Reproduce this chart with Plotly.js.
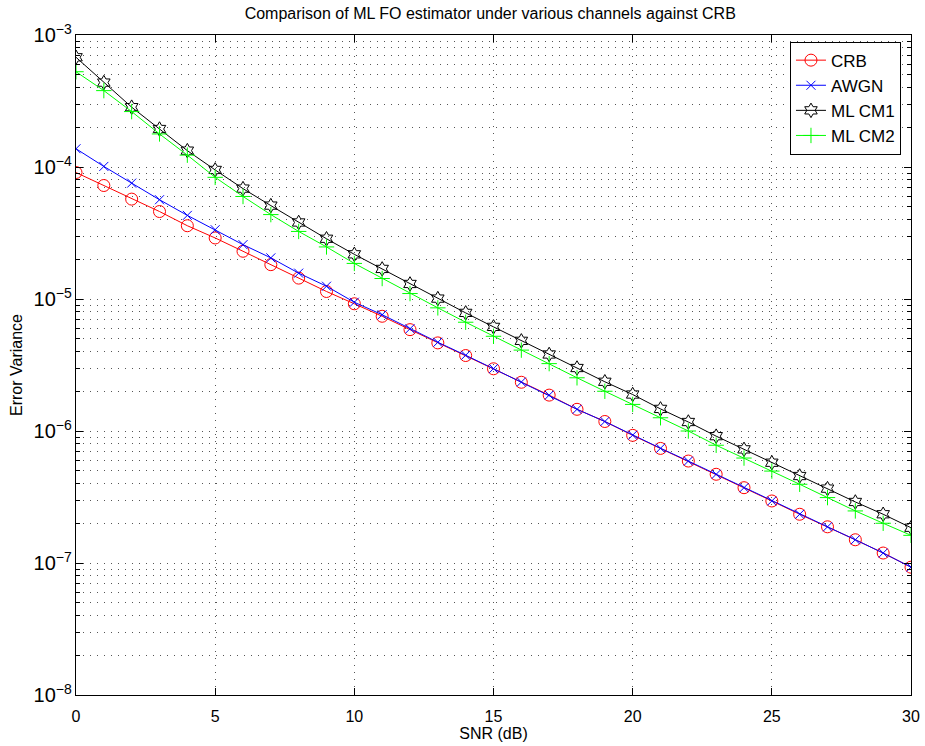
<!DOCTYPE html>
<html>
<head>
<meta charset="utf-8">
<script src="https://cdn.plot.ly/plotly-3.0.1.min.js"></script>
<style>html,body{margin:0;padding:0;background:#fff;}#chart{width:925px;height:746px;}</style>
</head>
<body>
<div id="chart"></div>
<script>
const snr = [0,1,2,3,4,5,6,7,8,9,10,11,12,13,14,15,16,17,18,19,20,21,22,23,24,25,26,27,28,29,30];
const crb = [9.08e-5,7.24e-5,5.71e-5,4.6e-5,3.59e-5,2.9e-5,2.3e-5,1.82e-5,1.44e-5,1.14e-5,9.2e-6,7.4e-6,5.86e-6,4.65e-6,3.73e-6,2.96e-6,2.34e-6,1.87e-6,1.46e-6,1.18e-6,9.27e-7,7.38e-7,5.92e-7,4.7e-7,3.72e-7,2.95e-7,2.34e-7,1.88e-7,1.5e-7,1.19e-7,9.3e-8];
const awgn = [1.375e-4,1.01e-4,7.55e-5,5.65e-5,4.3e-5,3.35e-5,2.58e-5,2.05e-5,1.57e-5,1.25e-5,9.45e-6,7.6e-6,5.95e-6,4.7e-6,3.75e-6,2.97e-6,2.35e-6,1.87e-6,1.46e-6,1.18e-6,9.3e-7,7.4e-7,5.92e-7,4.7e-7,3.72e-7,2.95e-7,2.34e-7,1.88e-7,1.5e-7,1.19e-7,9.3e-8];
const cm1 = [6.78e-4,4.36e-4,2.84e-4,1.94e-4,1.33e-4,9.5e-5,6.86e-5,5.1e-5,3.8e-5,2.86e-5,2.18e-5,1.69e-5,1.3e-5,1.007e-5,7.85e-6,6.15e-6,4.82e-6,3.8e-6,3.0e-6,2.36e-6,1.89e-6,1.47e-6,1.17e-6,9.14e-7,7.26e-7,5.75e-7,4.56e-7,3.66e-7,2.9e-7,2.34e-7,1.85e-7];
const cm2 = [5.27e-4,3.79e-4,2.63e-4,1.78e-4,1.23e-4,8.35e-5,5.98e-5,4.36e-5,3.25e-5,2.48e-5,1.86e-5,1.43e-5,1.1e-5,8.57e-6,6.67e-6,5.22e-6,4.1e-6,3.24e-6,2.53e-6,2.0e-6,1.59e-6,1.26e-6,1.0e-6,7.8e-7,6.24e-7,4.97e-7,3.95e-7,3.13e-7,2.48e-7,2.0e-7,1.62e-7];
const names = ['CRB','AWGN','ML CM1','ML CM2'];

const FONT = 'Liberation Sans, Arial, Helvetica, sans-serif';
const traces = [
  {x: snr, y: crb, name: names[0], mode: 'lines+markers', line: {color: '#ff0000', width: 1},
   marker: {symbol: 'circle-open', size: 12, color: '#ff0000', line: {width: 1}}},
  {x: snr, y: awgn, name: names[1], mode: 'lines+markers', line: {color: '#0000ff', width: 1},
   marker: {symbol: 'x-thin-open', size: 9, color: '#0000ff', line: {width: 1, color: '#0000ff'}}},
  {x: snr, y: cm1, name: names[2], mode: 'lines+markers', line: {color: '#000000', width: 1},
   marker: {symbol: 'hexagram-open', size: 11, color: '#000000', line: {width: 1}}},
  {x: snr, y: cm2, name: names[3], mode: 'lines+markers', line: {color: '#00ff00', width: 1},
   marker: {symbol: 'cross-thin-open', size: 11, color: '#00ff00', line: {width: 1, color: '#00ff00'}}}
];

const gridStyle = {gridcolor: '#555', griddash: '1px,6px', gridwidth: 1};
const layout = {
  width: 925, height: 746,
  paper_bgcolor: '#fff', plot_bgcolor: '#fff',
  margin: {l: 76, r: 14, t: 35, b: 51},
  font: {family: FONT, size: 15, color: '#000'},
  showlegend: true,
  title: {text: 'Comparison of ML FO estimator under various channels against CRB',
          font: {family: FONT, size: 16, color: '#000'}, x: 0.53, xanchor: 'center',
          y: 1 - 13/746, yref: 'container', yanchor: 'middle'},
  xaxis: Object.assign({
    range: [0, 30], dtick: 5, tick0: 0, showgrid: true,
    showline: true, linecolor: '#000', linewidth: 1, mirror: 'ticks',
    ticks: 'inside', ticklen: 7, tickcolor: '#000', zeroline: false,
    ticklabelstandoff: 7,
    tickfont: {family: FONT, size: 16, color: '#000'},
    title: {text: 'SNR (dB)', font: {family: FONT, size: 16, color: '#000'}, standoff: 2}
  }, gridStyle),
  yaxis: Object.assign({
    type: 'log', range: [-8, -3], dtick: 1, exponentformat: 'power', showgrid: true,
    showline: true, linecolor: '#000', linewidth: 1, mirror: 'ticks',
    ticks: 'inside', ticklen: 7, tickcolor: '#000', zeroline: false,
    tickfont: {family: FONT, size: 16, color: '#000'},
    minor: {dtick: 'D1', showgrid: true, gridcolor: '#555', griddash: '1px,6px', gridwidth: 1,
            ticks: 'inside', ticklen: 4, tickcolor: '#000'},
    title: {text: 'Error Variance', font: {family: FONT, size: 16, color: '#000'}, standoff: 6}
  }, gridStyle),
  legend: {x: 0.988, y: 0.99, xanchor: 'right', yanchor: 'top', bgcolor: '#fff',
           bordercolor: '#000', borderwidth: 1, font: {family: FONT, size: 17, color: '#000'},
           tracegroupgap: 0, itemwidth: 30}
};

Plotly.newPlot('chart', traces, layout, {displayModeBar: false, staticPlot: true});
</script>
</body>
</html>
